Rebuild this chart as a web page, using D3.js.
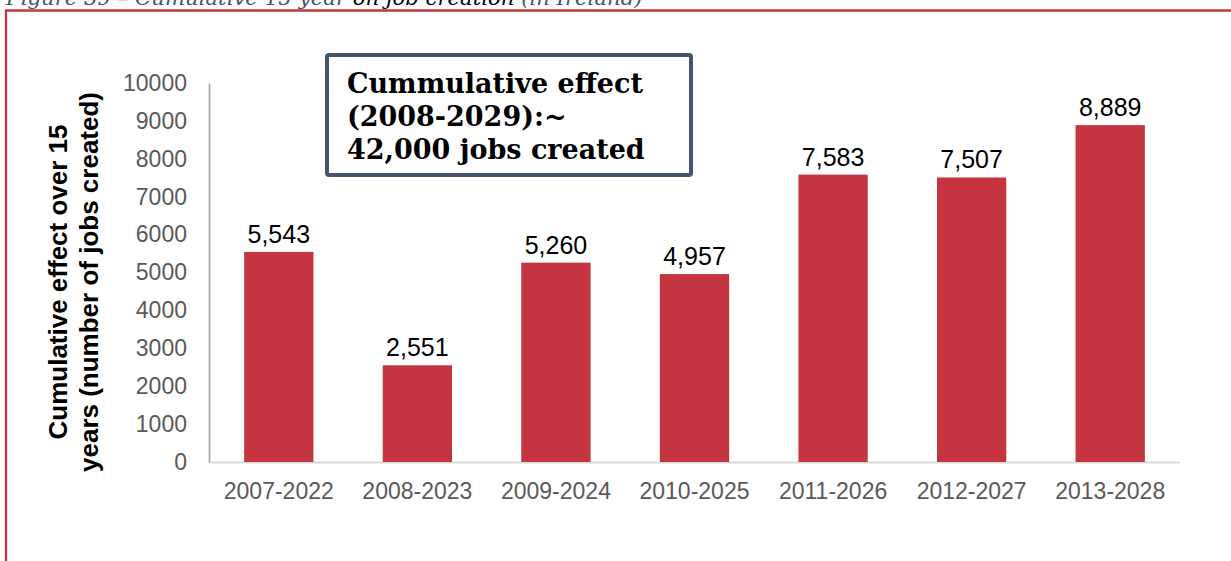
<!DOCTYPE html>
<html>
<head>
<meta charset="utf-8">
<script src="https://cdn.jsdelivr.net/npm/d3@7"></script>
<style>
  html, body { margin: 0; padding: 0; background: #fff; }
  svg { display: block; }
</style>
</head>
<body>
<svg id="chart" width="1231" height="561"></svg>
<script>
const categories = ["2007-2022", "2008-2023", "2009-2024", "2010-2025", "2011-2026", "2012-2027", "2013-2028"];
const jobs = [5543, 2551, 5260, 4957, 7583, 7507, 8889];
const yTicks = [0, 1000, 2000, 3000, 4000, 5000, 6000, 7000, 8000, 9000, 10000];
const titleParts = [
  { text: "Figure 39 – Cumulative 15-year ", color: "#44546a" },
  { text: "on job creation ", color: "#000000" },
  { text: "(in Ireland)", color: "#44546a" }
];
const yTitleLines = ["Cumulative effect over 15", "years (number of jobs created)"];
const noteLines = ["Cummulative effect", "(2008-2029):~", "42,000 jobs created"];

const svg = d3.select("#chart");
const RED = "#c43540";

// Figure caption (cut off at top)
const cap = svg.append("text")
  .attr("x", 6).attr("y", 5)
  .attr("font-family", "'DejaVu Serif', serif")
  .attr("font-style", "italic")
  .attr("font-size", 20);
cap.selectAll("tspan").data(titleParts).join("tspan")
  .attr("fill", d => d.color).text(d => d.text);
{
  const w = cap.node().getComputedTextLength();
  cap.attr("font-size", 20 * 637 / w);
}

// Red frame (top and left)
svg.append("line").attr("x1", 5).attr("x2", 1231).attr("y1", 10.5).attr("y2", 10.5)
  .attr("stroke", RED).attr("stroke-width", 2.3);
svg.append("line").attr("x1", 6).attr("x2", 6).attr("y1", 10).attr("y2", 561)
  .attr("stroke", RED).attr("stroke-width", 2.3);

// Scales
const x = d3.scaleBand().domain(categories).range([209.5, 1179.5])
  .paddingInner(0.5).paddingOuter(0.25);
const y = d3.scaleLinear().domain([0, 10000]).range([462, 83]);

// Y axis
const yAxis = svg.append("g").attr("transform", "translate(209,0)")
  .call(d3.axisLeft(y).tickValues(yTicks).tickSize(0).tickPadding(22).tickFormat(d3.format("d")));
yAxis.select(".domain").attr("stroke", "#a6a6a6").attr("stroke-width", 1.6);
yAxis.selectAll("text")
  .attr("font-family", "'Liberation Sans', Arial, sans-serif")
  .attr("font-size", 23).attr("fill", "#595959");

// X axis
const xAxis = svg.append("g").attr("transform", "translate(0,462)")
  .call(d3.axisBottom(x).tickSize(0).tickPadding(21));
xAxis.select(".domain").attr("stroke", "#d9d9d9").attr("stroke-width", 2.2);
xAxis.selectAll("text")
  .attr("font-family", "'Liberation Sans', Arial, sans-serif")
  .attr("font-size", 23).attr("fill", "#595959");

// Bars
svg.append("g").selectAll("rect").data(jobs).join("rect")
  .attr("x", (d, i) => x(categories[i]))
  .attr("width", x.bandwidth())
  .attr("y", d => y(d))
  .attr("height", d => y(0) - y(d))
  .attr("fill", RED);

// Value labels
svg.append("g").selectAll("text").data(jobs).join("text")
  .attr("x", (d, i) => x(categories[i]) + x.bandwidth() / 2)
  .attr("y", d => y(d) - 9)
  .attr("text-anchor", "middle")
  .attr("font-family", "'Liberation Sans', Arial, sans-serif")
  .attr("font-size", 25).attr("fill", "#000")
  .text(d => d3.format(",")(d));

// Y axis title
const yt = svg.append("text")
  .attr("transform", "translate(0,282) rotate(-90)")
  .attr("text-anchor", "middle")
  .attr("font-family", "'Liberation Sans', Arial, sans-serif")
  .attr("font-weight", "bold").attr("font-size", 26).attr("fill", "#000");
yt.selectAll("tspan").data(yTitleLines).join("tspan")
  .attr("x", 0).attr("y", (d, i) => i === 0 ? 67 : 98)
  .text(d => d);

// Annotation box
svg.append("rect").attr("x", 327).attr("y", 55).attr("width", 364).attr("height", 120)
  .attr("rx", 2).attr("fill", "#fff").attr("stroke", "#44546a").attr("stroke-width", 4);
const note = svg.append("text")
  .attr("font-family", "'DejaVu Serif', Georgia, serif")
  .attr("font-weight", "bold").attr("font-size", 26).attr("fill", "#000");
note.selectAll("tspan").data(noteLines).join("tspan")
  .attr("x", 347).attr("y", (d, i) => 93 + i * 33)
  .text(d => d);
{
  const first = note.select("tspan").node().getComputedTextLength();
  note.attr("font-size", 26 * 296 / first);
}
</script>
</body>
</html>
